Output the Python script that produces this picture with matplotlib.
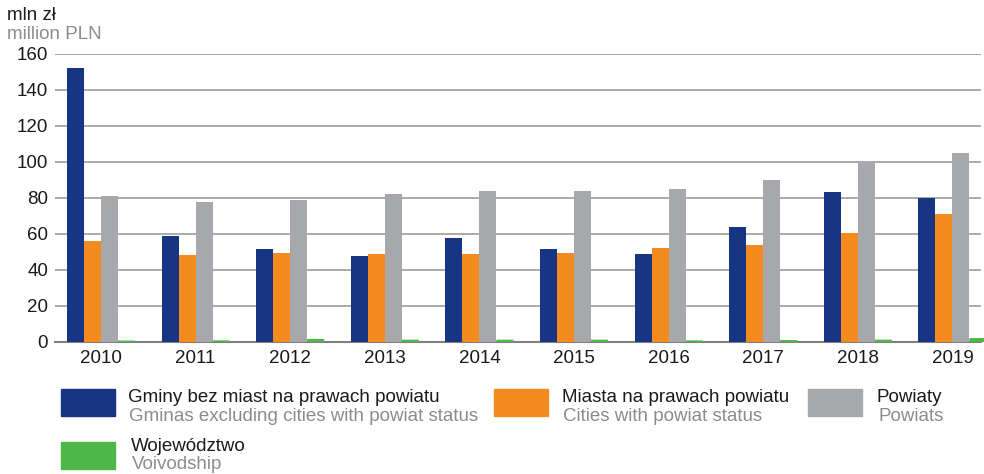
import matplotlib
matplotlib.use('Agg')
import matplotlib.pyplot as plt
from matplotlib.patches import Rectangle
import numpy as np

years = ['2010', '2011', '2012', '2013', '2014', '2015', '2016', '2017', '2018', '2019']
gminy = [152.2, 59.0, 51.8, 47.9, 57.9, 51.8, 49.0, 64.0, 83.4, 80.1]
miasta = [56.2, 48.5, 49.6, 49.0, 49.0, 49.6, 52.3, 54.0, 60.7, 71.2]
powiaty = [81.2, 77.9, 79.0, 82.3, 84.0, 84.0, 85.1, 90.1, 99.5, 105.1]
wojewodztwo = [0.8, 0.9, 1.7, 1.3, 1.3, 1.3, 0.9, 1.1, 1.3, 2.2]

labels_pl = ['Gminy bez miast na prawach powiatu', 'Miasta na prawach powiatu', 'Powiaty', 'Województwo']
labels_en = ['Gminas excluding cities with powiat status', 'Cities with powiat status', 'Powiats', 'Voivodship']
colors = ['#173583', '#f58b1f', '#a7a8ab', '#4db748']

plt.rcParams['font.family'] = ['Liberation Sans', 'DejaVu Sans']

W, H = 984, 474
fig = plt.figure(figsize=(W / 100, H / 100), dpi=100)
ax = fig.add_axes([55 / W, (H - 342) / H, (981 - 55) / W, (342 - 54) / H])

x = np.arange(len(years))
w = 0.18
series = [gminy, miasta, powiaty, wojewodztwo]
for k, vals in enumerate(series):
    bars = ax.bar(x + (k - 1.5) * w, vals, width=w, color=colors[k], clip_on=False, zorder=5)
    if k == 3:
        # bardzo niskie słupki - bez przyciągania do pikseli
        for b in bars:
            b.set_snap(False)

ax.set_xlim(-0.486, 9.302)
ax.set_ylim(0, 160)
ax.set_yticks(range(0, 161, 20))
ax.set_xticks(x)
ax.set_xticklabels(years)
ax.tick_params(axis='both', length=0, labelsize=13.5, colors='#1a1a1a')
ax.tick_params(axis='y', pad=5)
ax.tick_params(axis='x', pad=6)
ax.grid(axis='y', color='#a3a3a3', linewidth=1.3, zorder=0)
ax.set_axisbelow(True)
for s in ['top', 'right', 'left']:
    ax.spines[s].set_visible(False)
ax.spines['bottom'].set_color('#808080')
ax.spines['bottom'].set_linewidth(1.5)
ax.spines['bottom'].set_zorder(4)

# jednostki
fig.text(7 / W, 1 - 20 / H, 'mln zł', fontsize=13.5, color='#1a1a1a', va='baseline')
fig.text(7 / W, 1 - 39 / H, 'million PLN', fontsize=13.5, color='#8c8c8c', va='baseline')

# legenda: (x prostokąta, y prostokąta, x tekstu, linia bazowa pl, linia bazowa en)
legend_pos = [(61, 389, 128, 402, 421), (494, 389, 562, 402, 421),
              (808, 389, 877, 402, 421), (61, 442, 131, 451, 469)]
for k, (px, py, tx, b1, b2) in enumerate(legend_pos):
    fig.patches.append(Rectangle((px / W, 1 - (py + 27) / H), 54 / W, 27 / H,
                                 transform=fig.transFigure, color=colors[k]))
    fig.text(tx / W, 1 - b1 / H, labels_pl[k], fontsize=13.5, color='#1a1a1a', va='baseline')
    fig.text((tx + 1) / W, 1 - b2 / H, labels_en[k], fontsize=13.5, color='#8c8c8c', va='baseline')

fig.savefig('out.png', dpi=100)
